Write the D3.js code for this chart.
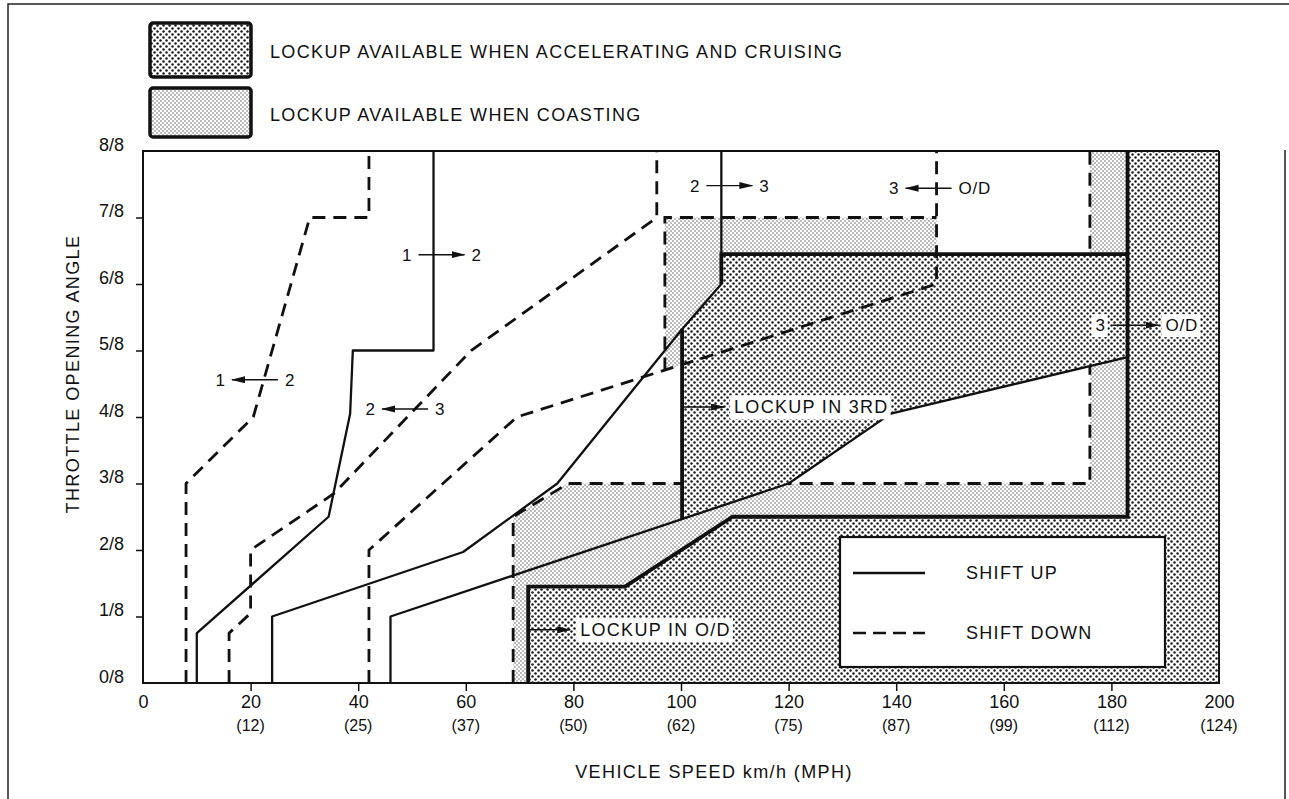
<!DOCTYPE html>
<html>
<head>
<meta charset="utf-8">
<script src="https://cdn.jsdelivr.net/npm/d3@7"></script>
<style>
  body { margin: 0; background: #fff; }
  svg { display: block; }
  text { font-family: "Liberation Sans", Arial, Helvetica, sans-serif; fill: #111; }
</style>
</head>
<body>
<svg id="chart" width="1289" height="799"></svg>
<script>
// ---- axis data ----
const speedTicks = [0, 20, 40, 60, 80, 100, 120, 140, 160, 180, 200];
const mphLabels = ["", "(12)", "(25)", "(37)", "(50)", "(62)", "(75)", "(87)", "(99)", "(112)", "(124)"];
const throttleTicks = [0, 1, 2, 3, 4, 5, 6, 7, 8];
const throttleLabels = ["0/8", "1/8", "2/8", "3/8", "4/8", "5/8", "6/8", "7/8", "8/8"];

// ---- shift lines [km/h, throttle eighths] ----
const upshift12 = [[10, 0], [10, 0.75], [34.5, 2.5], [38.5, 4.05], [39, 5], [54, 5], [54, 8]];
const upshift23 = [[24, 0], [24, 1], [59.5, 1.97], [77, 3], [100, 5.3], [107.5, 6], [107.5, 8]];
const upshift3OD = [[46, 0], [46, 1], [120, 3], [139, 4.05], [183, 4.9], [183, 8]];
const downshift21 = [[8, 0], [8, 3], [20.5, 4], [31, 7], [42, 7], [42, 8]];
const downshift32 = [[16, 0], [16, 0.75], [20, 1.05], [20, 2], [35.5, 2.85], [61, 5], [95.5, 7], [95.5, 8]];
const downshiftOD3 = [[42, 0], [42, 2], [69.5, 4], [147.5, 6], [147.5, 8]];

// ---- lockup zones ----
const coastOD = [[68.8, 0], [68.8, 2.5], [79, 3], [176, 3], [176, 8], [200, 8], [200, 0]];
const coastODEdge = [[68.8, 0], [68.8, 2.5], [79, 3], [176, 3], [176, 8]];
const coast3rd = [[97, 7], [147.5, 7], [147.5, 6], [97, 4.7]];
const coast3rdEdge = [[97, 4.7], [97, 7], [147.5, 7]];
const accel3rd = [[100.2, 5.32], [107.5, 6], [107.5, 6.45], [183, 6.45], [183, 4.9], [139, 4.05], [120, 3], [100.2, 2.46]];
const accel3rdEdges = [[[100.2, 2.46], [100.2, 5.32]], [[107.5, 6], [107.5, 6.45], [183, 6.45]]];
const accelOD = [[71.6, 0], [71.6, 1.45], [89.6, 1.45], [109.6, 2.5], [183, 2.5], [183, 8], [200, 8], [200, 0]];
const accelODEdge = [[71.6, 0], [71.6, 1.45], [89.6, 1.45], [109.6, 2.5], [183, 2.5], [183, 8]];

// ---- annotations ----
const shiftNotes = [
  { v: 54, t: 6.44, left: "1", right: "2", dir: 1 },
  { v: 22.3, t: 4.56, left: "1", right: "2", dir: -1 },
  { v: 50.2, t: 4.12, left: "2", right: "3", dir: -1 },
  { v: 107.5, t: 7.48, left: "2", right: "3", dir: 1 },
  { v: 147.5, t: 7.44, left: "3", right: "O/D", dir: -1 },
  { v: 183, t: 5.38, left: "3", right: "O/D", dir: 1, boxed: true }
];
const lockupNotes = [
  { v: 100.2, t: 4.15, text: "LOCKUP IN 3RD" },
  { v: 71.6, t: 0.8, text: "LOCKUP IN O/D" }
];
const legendZones = ["LOCKUP AVAILABLE WHEN ACCELERATING AND CRUISING", "LOCKUP AVAILABLE WHEN COASTING"];
const legendLines = ["SHIFT UP", "SHIFT DOWN"];

const svg = d3.select("#chart");
const x = d3.scaleLinear().domain([0, 200]).range([143, 1219]);
const y = d3.scaleLinear().domain([0, 8]).range([683, 151]);
const line = d3.line().x(d => x(d[0])).y(d => y(d[1]));
const area = d => line(d) + "Z";

// patterns
const defs = svg.append("defs");
const dense = defs.append("pattern").attr("id", "dense")
  .attr("patternUnits", "userSpaceOnUse").attr("width", 6).attr("height", 6);
dense.append("rect").attr("width", 6).attr("height", 6).attr("fill", "#fff");
dense.append("circle").attr("cx", 1.5).attr("cy", 1.5).attr("r", 1.25).attr("fill", "#1a1a1a");
dense.append("circle").attr("cx", 4.5).attr("cy", 4.5).attr("r", 1.25).attr("fill", "#1a1a1a");
const light = defs.append("pattern").attr("id", "light")
  .attr("patternUnits", "userSpaceOnUse").attr("width", 4).attr("height", 4);
light.append("rect").attr("width", 4).attr("height", 4).attr("fill", "#fff");
light.append("circle").attr("cx", 1).attr("cy", 1).attr("r", 0.75).attr("fill", "#555");
light.append("circle").attr("cx", 3).attr("cy", 3).attr("r", 0.75).attr("fill", "#555");
defs.append("marker").attr("id", "head")
  .attr("markerUnits", "userSpaceOnUse").attr("markerWidth", 14).attr("markerHeight", 8)
  .attr("refX", 13).attr("refY", 3.5).attr("orient", "auto")
  .append("path").attr("d", "M0,0L14,3.5L0,7Z").attr("fill", "#111");

// outer frame
svg.append("path").attr("d", "M8,799V4H1289M1285,150V799")
  .attr("fill", "none").attr("stroke", "#222").attr("stroke-width", 1.5);

// top legend
legendZones.forEach((label, i) => {
  const top = i === 0 ? 23 : 88;
  svg.append("rect").attr("x", 150).attr("y", top).attr("width", 101).attr("height", i === 0 ? 54 : 49)
    .attr("rx", 3).attr("fill", i === 0 ? "url(#dense)" : "url(#light)")
    .attr("stroke", "#111").attr("stroke-width", 3.5);
  svg.append("text").attr("x", 270).attr("y", top + (i === 0 ? 29 : 27)).attr("dy", "0.35em")
    .attr("font-size", 18).attr("letter-spacing", 1.35).text(label);
});

// lockup zones
svg.append("path").attr("d", area(coastOD)).attr("fill", "url(#light)");
svg.append("path").attr("d", area(coast3rd)).attr("fill", "url(#light)");
svg.append("path").attr("d", line(coastODEdge)).attr("fill", "none")
  .attr("stroke", "#111").attr("stroke-width", 2.8).attr("stroke-dasharray", "13,8");
svg.append("path").attr("d", area(accel3rd)).attr("fill", "url(#dense)");
svg.append("path").attr("d", area(accelOD)).attr("fill", "url(#dense)");

// bottom-right legend
const lg = svg.append("g");
lg.append("rect").attr("x", 840).attr("y", 537).attr("width", 325).attr("height", 130)
  .attr("fill", "#fff").attr("stroke", "#111").attr("stroke-width", 2.2);
legendLines.forEach((label, i) => {
  const ly = 573 + i * 60;
  lg.append("line").attr("x1", 853).attr("x2", 925).attr("y1", ly).attr("y2", ly)
    .attr("stroke", "#111").attr("stroke-width", 2.4)
    .attr("stroke-dasharray", i === 0 ? null : "13,7");
  lg.append("text").attr("x", 966).attr("y", ly).attr("dy", "0.35em")
    .attr("font-size", 18).attr("letter-spacing", 1.3).text(label);
});

// thick lockup boundaries
[accelODEdge, ...accel3rdEdges].forEach(seg => {
  svg.append("path").attr("d", line(seg)).attr("fill", "none")
    .attr("stroke", "#111").attr("stroke-width", 3.8).attr("stroke-linejoin", "miter");
});
svg.append("path").attr("d", line(coast3rdEdge)).attr("fill", "none")
  .attr("stroke", "#111").attr("stroke-width", 2.8).attr("stroke-dasharray", "13,8");

// shift lines
[upshift12, upshift23, upshift3OD].forEach(s => {
  svg.append("path").attr("d", line(s)).attr("fill", "none")
    .attr("stroke", "#111").attr("stroke-width", 2.3).attr("stroke-linejoin", "round");
});
[downshift21, downshift32, downshiftOD3].forEach(s => {
  svg.append("path").attr("d", line(s)).attr("fill", "none")
    .attr("stroke", "#111").attr("stroke-width", 2.8).attr("stroke-dasharray", "13,8");
});

// plot frame
svg.append("path")
  .attr("d", `M${x(200)},${y(8)}H${x(0)}V${y(0)}H${x(200)}V${y(8)}`)
  .attr("fill", "none").attr("stroke", "#111").attr("stroke-width", 2);

// axes
const xAxis = svg.append("g").attr("transform", `translate(0,${y(0)})`)
  .call(d3.axisBottom(x).tickValues(speedTicks).tickSize(8).tickPadding(4).tickFormat(d => d));
xAxis.select(".domain").remove();
xAxis.selectAll(".tick line").attr("stroke", "#111").attr("stroke-width", 1.5)
  .attr("opacity", d => (d === 0 || d === 200) ? 0 : 1);
xAxis.selectAll(".tick text").attr("font-size", 18).attr("font-family", null).attr("fill", "#111");

svg.append("g").selectAll("text").data(speedTicks).join("text")
  .attr("x", d => x(d)).attr("y", 725).attr("dy", "0.35em")
  .attr("text-anchor", "middle").attr("font-size", 16)
  .text((d, i) => mphLabels[i]);

const yAxis = svg.append("g").attr("transform", `translate(${x(0)},0)`)
  .call(d3.axisLeft(y).tickValues(throttleTicks).tickSize(7).tickPadding(12)
    .tickFormat((d, i) => throttleLabels[i]));
yAxis.select(".domain").remove();
yAxis.selectAll(".tick line").attr("stroke", "#111").attr("stroke-width", 1.5)
  .attr("opacity", d => (d === 0 || d === 8) ? 0 : 1);
yAxis.selectAll(".tick text").attr("font-size", 18).attr("font-family", null)
  .attr("fill", "#111").attr("dy", "-0.05em");

svg.append("text").attr("x", 714).attr("y", 772).attr("dy", "0.35em")
  .attr("text-anchor", "middle").attr("font-size", 18).attr("letter-spacing", 1.4)
  .text("VEHICLE SPEED km/h (MPH)");
svg.append("text").attr("transform", "translate(73,374) rotate(-90)").attr("dy", "0.35em")
  .attr("text-anchor", "middle").attr("font-size", 18).attr("letter-spacing", 1.4)
  .text("THROTTLE OPENING ANGLE");

// helper for white backing box behind text
function backText(g, tx, ty, str, anchor, size, spacing) {
  const t = g.append("text").attr("x", tx).attr("y", ty).attr("dy", "0.35em")
    .attr("text-anchor", anchor).attr("font-size", size).attr("letter-spacing", spacing).text(str);
  const b = t.node().getBBox();
  g.insert("rect", "text").attr("x", b.x - 4).attr("y", b.y - 2)
    .attr("width", b.width + 6).attr("height", b.height + 4).attr("fill", "#fff");
}

// shift arrows
shiftNotes.forEach(n => {
  const g = svg.append("g");
  const cx = x(n.v), cy = y(n.t);
  const tail = cx - n.dir * 15, head = cx + n.dir * 31;
  g.append("line").attr("x1", tail).attr("x2", head).attr("y1", cy).attr("y2", cy)
    .attr("stroke", "#111").attr("stroke-width", 1.4).attr("marker-end", "url(#head)");
  const lo = Math.min(tail, head), hi = Math.max(tail, head);
  if (n.boxed) {
    backText(g, lo - 7, cy, n.left, "end", 17, 0.5);
    backText(g, hi + 7, cy, n.right, "start", 17, 0.8);
  } else {
    g.append("text").attr("x", lo - 7).attr("y", cy).attr("dy", "0.35em")
      .attr("text-anchor", "end").attr("font-size", 17).text(n.left);
    g.append("text").attr("x", hi + 7).attr("y", cy).attr("dy", "0.35em")
      .attr("font-size", 17).attr("letter-spacing", 0.8).text(n.right);
  }
});

// lockup labels
lockupNotes.forEach(n => {
  const g = svg.append("g");
  const x0 = x(n.v), cy = y(n.t);
  g.append("line").attr("x1", x0).attr("x2", x0 + 42).attr("y1", cy).attr("y2", cy)
    .attr("stroke", "#111").attr("stroke-width", 1.6).attr("marker-end", "url(#head)");
  backText(g, x0 + 52, cy, n.text, "start", 18, 1.3);
});
</script>
</body>
</html>
